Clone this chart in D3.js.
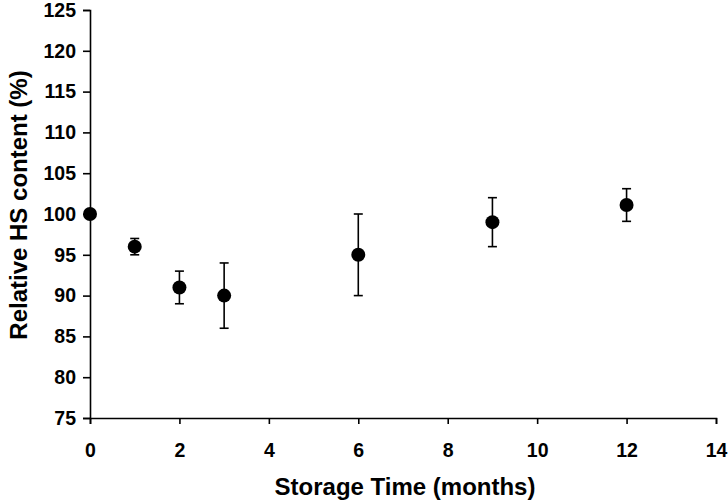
<!DOCTYPE html>
<html>
<head>
<meta charset="utf-8">
<script src="https://cdn.jsdelivr.net/npm/d3@7/dist/d3.min.js"></script>
<style>
  body { margin: 0; background: #fff; }
  svg text { font-family: "Liberation Sans", Arial, sans-serif; font-weight: bold; fill: #000; }
</style>
</head>
<body>
<svg id="chart" width="728" height="502"></svg>
<script>
  // Data
  var months = [0, 1, 2, 3, 6, 9, 12]
  var content = [100, 96, 91, 90, 95, 99, 101.1]
  var errors = [0, 1, 2, 4, 5, 3, 2]
  var xTicks = [0, 2, 4, 6, 8, 10, 12, 14]
  var yTicks = [75, 80, 85, 90, 95, 100, 105, 110, 115, 120, 125]

  var WIDTH = 728
  var HEIGHT = 502
  var margin = { top: 10, right: 12, bottom: 84, left: 90 }

  var svg = d3.select('#chart')
  var g = svg.append('g')
    .attr('transform', 'translate(' + margin.left + ',' + margin.top + ')')
  var w = WIDTH - margin.left - margin.right
  var h = HEIGHT - margin.top - margin.bottom

  var x = d3.scaleLinear().domain([0, 14]).range([0, w])
  var y = d3.scaleLinear().domain([75, 125]).range([h, 0])

  var points = months.map(function (m, i) {
    return { x: m, y: content[i], e: errors[i] }
  })

  // Axes
  var xAxis = g.append('g')
    .attr('transform', 'translate(0,' + h + ')')
    .call(d3.axisBottom(x).tickValues(xTicks).tickSizeOuter(0).tickSize(6).tickPadding(19))
  var yAxis = g.append('g')
    .call(d3.axisLeft(y).tickValues(yTicks).tickSizeOuter(0).tickSize(7).tickPadding(7))

  ;[xAxis, yAxis].forEach(function (a) {
    a.selectAll('path, line').attr('stroke', '#000').attr('stroke-width', 1.6)
    a.selectAll('text').style('font-size', '19.5px').style('font-family', '"Liberation Sans", Arial, sans-serif').style('font-weight', 'bold')
  })

  // Error bars
  var eb = g.append('g').selectAll('g')
    .data(points.filter(function (d) { return d.e > 0 }))
    .enter().append('g')
  eb.append('line')
    .attr('x1', function (d) { return x(d.x) })
    .attr('x2', function (d) { return x(d.x) })
    .attr('y1', function (d) { return y(d.y - d.e) })
    .attr('y2', function (d) { return y(d.y + d.e) })
    .attr('stroke', '#000').attr('stroke-width', 1.6)
  eb.selectAll('line.cap')
    .data(function (d) { return [d.y - d.e, d.y + d.e].map(function (v) { return { x: d.x, v: v } }) })
    .enter().append('line')
    .attr('class', 'cap')
    .attr('x1', function (d) { return x(d.x) - 4.5 })
    .attr('x2', function (d) { return x(d.x) + 4.5 })
    .attr('y1', function (d) { return y(d.v) })
    .attr('y2', function (d) { return y(d.v) })
    .attr('stroke', '#000').attr('stroke-width', 1.6)

  // Markers
  g.append('g').selectAll('circle')
    .data(points)
    .enter().append('circle')
    .attr('cx', function (d) { return x(d.x) })
    .attr('cy', function (d) { return y(d.y) })
    .attr('r', 7)
    .attr('fill', '#000')

  // Axis titles
  svg.append('text')
    .attr('x', 405)
    .attr('y', 495)
    .attr('text-anchor', 'middle')
    .style('font-size', '24px')
    .text('Storage Time (months)')

  svg.append('text')
    .attr('transform', 'translate(27,205) rotate(-90)')
    .attr('text-anchor', 'middle')
    .style('font-size', '24px')
    .text('Relative HS content (%)')
</script>
</body>
</html>
